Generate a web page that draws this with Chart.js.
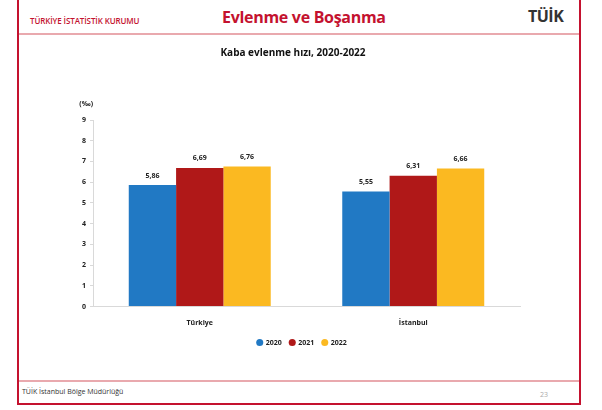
<!DOCTYPE html>
<html>
<head>
<meta charset="utf-8">
<script src="https://cdn.jsdelivr.net/npm/chart.js@4"></script>
<style>
  body { margin:0; width:602px; height:410px; background:#fff; overflow:hidden; font-family:"Open Sans", sans-serif; }
  #frame { position:absolute; left:17px; top:-3px; width:560px; height:404px; border:2px solid #c4122f; }
  .hline { position:absolute; left:19px; width:560px; height:2px; background:#e9a9ae; }
  .txt { position:absolute; white-space:nowrap; }
  #wrap { position:absolute; left:0; top:0; width:602px; height:410px; }
</style>
</head>
<body>
<div id="frame"></div>
<div class="hline" style="top:33px"></div>
<div class="hline" style="top:380px"></div>
<div class="txt" style="left:30px;top:15px;font-size:8px;font-weight:600;color:#c4122f;letter-spacing:-0.1px">TÜRKİYE İSTATİSTİK KURUMU</div>
<div class="txt" style="left:222px;top:6px;font-size:16px;font-weight:bold;color:#c4122f;letter-spacing:-0.3px">Evlenme ve Boşanma</div>
<div class="txt" style="left:528px;top:5px;font-size:16px;font-weight:bold;color:#333;letter-spacing:-0.5px">TÜİK</div>
<div class="txt" style="left:22px;top:387px;font-size:7px;color:#333">TÜİK İstanbul Bölge Müdürlüğü</div>
<div class="txt" style="left:540px;top:390px;font-size:7px;color:#aaa">23</div>
<div id="wrap"><canvas id="chart"></canvas></div>
<script>
const categories = ['Türkiye', 'İstanbul'];
const years = ['2020', '2021', '2022'];
const values2020 = [5.86, 5.55];
const values2021 = [6.69, 6.31];
const values2022 = [6.76, 6.66];
const yTicks = [0, 1, 2, 3, 4, 5, 6, 7, 8, 9];
const colors = ['#2179c4', '#b01818', '#fbb921'];

const valueLabels = {
    id:'valueLabels',
    afterLayout(chart){
        // nudge legend to the right to sit under the slide centre
        chart.legend.left += 9;
        chart.legend.right += 9;
    },
    afterDatasetsDraw(chart){
        const ctx = chart.ctx;
        ctx.save();
        ctx.font = 'bold 7px "Open Sans"';
        ctx.fillStyle = '#222';
        ctx.textAlign = 'center';
        ctx.textBaseline = 'bottom';
        chart.data.datasets.forEach((ds, i) => {
            chart.getDatasetMeta(i).data.forEach((bar, j) => {
                ctx.fillText(ds.data[j].toFixed(2).replace('.', ','), bar.x, bar.y - 6);
            });
        });
        // unit label above the y axis
        const y = chart.scales.y;
        ctx.textAlign = 'right';
        ctx.fillText('(‰)', y.right, y.top - 13);
        ctx.restore();
    }
};

new Chart(document.getElementById('chart').getContext('2d'), {
    type:'bar',
    data:{
        labels: categories,
        datasets:[
            {label:years[0], data:values2020, backgroundColor:colors[0]},
            {label:years[1], data:values2021, backgroundColor:colors[1]},
            {label:years[2], data:values2022, backgroundColor:colors[2]}
        ]
    },
    options:{
        responsive:true,
        maintainAspectRatio:false,
        animation:false,
        layout:{padding:{left:66, right:82, top:47, bottom:54}},
        datasets:{bar:{categoryPercentage:0.665, barPercentage:1}},
        plugins:{
            title:{display:true, text:'Kaba evlenme hızı, 2020-2022', color:'#111',
                font:{family:'Open Sans', size:10, weight:'bold'}, padding:{top:0, bottom:61}},
            legend:{position:'bottom',
                labels:{usePointStyle:true, pointStyle:'circle', boxWidth:5, boxHeight:5, padding:8,
                    color:'#222', font:{family:'Open Sans', size:7, weight:'bold'}}},
            tooltip:{enabled:false}
        },
        scales:{
            x:{
                grid:{display:false},
                border:{color:'#d9d9d9'},
                ticks:{color:'#222', font:{family:'Open Sans', size:7, weight:'bold'}, padding:4}
            },
            y:{
                min:0, max:9,
                afterBuildTicks(s){ s.ticks = yTicks.map(v => ({value:v})); },
                afterFit(s){ s.width = 27; },
                grid:{drawOnChartArea:false, tickLength:3, color:'#d9d9d9'},
                border:{color:'#d9d9d9'},
                ticks:{color:'#222', font:{family:'Open Sans', size:7, weight:'bold'}, padding:4}
            }
        }
    },
    plugins:[valueLabels]
});
</script>
</body>
</html>
